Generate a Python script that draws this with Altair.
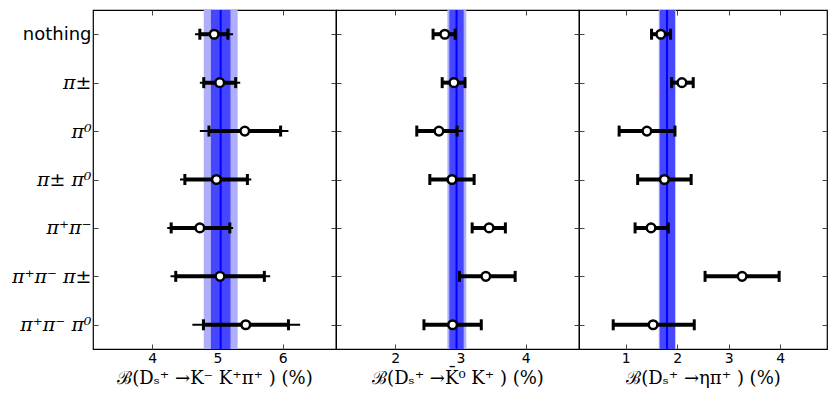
import altair as alt
import pandas as pd

cats = ["nothing", "π±", "π⁰", "π± π⁰", "π⁺π⁻", "π⁺π⁻ π±", "π⁺π⁻ π⁰"]

# Panel 1: B(Ds -> K- K+ pi+)
p1_val = [4.95, 5.035, 5.42, 4.985, 4.73, 5.04, 5.435]
p1_lo = [4.73, 4.79, 4.87, 4.50, 4.29, 4.36, 4.785]
p1_hi = [5.16, 5.28, 5.97, 5.46, 5.19, 5.72, 6.09]
p1_tlo = [4.655, 4.73, 4.73, 4.425, 4.23, 4.28, 4.615]
p1_thi = [5.24, 5.35, 6.09, 5.52, 5.24, 5.81, 6.27]
p1_band = [5.05, 4.90, 5.20, 4.79, 5.31]  # center, inner lo, inner hi, outer lo, outer hi
p1_dom = [3.09, 6.82]
p1_ticks = [4, 5, 6]

# Panel 2: B(Ds -> K0bar K+)
p2_val = [2.76, 2.90, 2.67, 2.87, 3.44, 3.39, 2.88]
p2_lo = [2.58, 2.72, 2.33, 2.53, 3.18, 2.985, 2.44]
p2_hi = [2.92, 3.07, 2.95, 3.21, 3.69, 3.84, 3.32]
p2_tlo = [2.58, 2.72, 2.33, 2.53, 3.18, 2.985, 2.44]
p2_thi = [2.92, 3.07, 3.04, 3.21, 3.69, 3.84, 3.32]
p2_band = [2.94, 2.83, 3.05, 2.80, 3.09]
p2_dom = [1.09, 4.82]
p2_ticks = [2, 3, 4]

# Panel 3: B(Ds -> eta pi+)
p3_val = [1.68, 2.09, 1.41, 1.75, 1.49, 3.26, 1.53]
p3_lo = [1.50, 1.89, 0.87, 1.23, 1.18, 2.54, 0.755]
p3_hi = [1.87, 2.31, 1.955, 2.27, 1.825, 3.98, 2.33]
p3_tlo = [1.50, 1.89, 0.87, 1.23, 1.18, 2.54, 0.755]
p3_thi = [1.87, 2.31, 1.955, 2.27, 1.825, 3.98, 2.33]
p3_band = [1.80, 1.66, 1.955, 1.64, 1.97]
p3_dom = [0.09, 4.91]
p3_ticks = [1, 2, 3, 4]

titles = ["ℬ(Dₛ⁺ →K⁻  K⁺π⁺ ) (%)", "ℬ(Dₛ⁺ →K̄⁰ K⁺ ) (%)", "ℬ(Dₛ⁺ →ηπ⁺ ) (%)"]

LIGHT = "#afaff9"
DARK = "#4646ff"
LINE = "#0000ff"
H = 339


def panel(val, lo, hi, tlo, thi, bandv, dom, ticks, title, first, width):
    df = pd.DataFrame({"cat": cats, "val": val, "lo": lo, "hi": hi, "tlo": tlo, "thi": thi})
    bd = pd.DataFrame({"c": [bandv[0]], "dlo": [bandv[1]], "dhi": [bandv[2]],
                       "llo": [bandv[3]], "lhi": [bandv[4]]})
    xs = alt.Scale(domain=dom, nice=False, zero=False)
    ys = alt.Scale(type="point", domain=cats, padding=0.5)
    xax = alt.Axis(values=ticks, orient="bottom", offset=-5, tickSize=5, domain=False,
                   grid=False, labelFontSize=14, labelFont="DejaVu Sans", labelColor="black",
                   tickColor="#444", labelPadding=2, title=title, titleFont="DejaVu Serif",
                   titleFontSize=18, titleFontWeight="normal", titleColor="black",
                   titlePadding=4)
    if first:
        yax = alt.Axis(orient="left", offset=-5, tickSize=5, domain=False, grid=False,
                       labels=True, title=None, minExtent=0, labelPadding=2,
                       labelFont={"condition": {"test": "datum.value == 'nothing'",
                                                "value": "DejaVu Sans"},
                                  "value": "DejaVu Serif"},
                       labelFontStyle={"condition": {"test": "datum.value == 'nothing'",
                                                     "value": "normal"},
                                       "value": "italic"},
                       labelFontSize={"condition": {"test": "datum.value == 'nothing'",
                                                    "value": 18},
                                      "value": 19},
                       labelColor="black", tickColor="#444")
    else:
        yax = alt.Axis(orient="left", offset=-5, tickSize=5, domain=False, grid=False,
                       labels=False, title=None, minExtent=0, tickColor="#444")
    X = lambda f: alt.X(f + ":Q", scale=xs, axis=xax)
    Y = alt.Y("cat:N", scale=ys, axis=yax, sort=cats)

    light = alt.Chart(bd).mark_rect(color=LIGHT).encode(x=X("llo"), x2="lhi:Q")
    dark = alt.Chart(bd).mark_rect(color=DARK).encode(x=X("dlo"), x2="dhi:Q")
    cline = alt.Chart(bd).mark_rule(color=LINE, strokeWidth=2).encode(x=X("c"))
    base = alt.Chart(df)
    thin = base.mark_rule(color="black", strokeWidth=2).encode(x=X("tlo"), x2="thi:Q", y=Y)
    thick = base.mark_rule(color="black", strokeWidth=4).encode(x=X("lo"), x2="hi:Q", y=Y)
    cap1 = base.mark_tick(color="black", thickness=3, size=11, opacity=1).encode(x=X("lo"), y=Y)
    cap2 = base.mark_tick(color="black", thickness=3, size=11, opacity=1).encode(x=X("hi"), y=Y)
    pts = base.mark_point(shape="circle", filled=True, fill="white", stroke="black",
                          strokeWidth=2.5, size=75, opacity=1).encode(x=X("val"), y=Y)
    main = alt.layer(light, dark, cline, thin, thick, cap1, cap2, pts)

    extra = base.mark_point(opacity=0).encode(
        x=alt.X("val:Q", scale=xs,
                axis=alt.Axis(orient="top", values=ticks, labels=False, title=None,
                              offset=-5, tickSize=5, domain=False, grid=False,
                              tickColor="#444")),
        y=alt.Y("cat:N", scale=ys, sort=cats,
                axis=alt.Axis(orient="right", labels=False, title=None, offset=-5,
                              tickSize=5, domain=False, grid=False, minExtent=0,
                              tickColor="#444")))
    return alt.layer(main, extra).resolve_axis(x="independent", y="independent").properties(
        width=width, height=H)


c1 = panel(p1_val, p1_lo, p1_hi, p1_tlo, p1_thi, p1_band, p1_dom, p1_ticks, titles[0], True, 243)
c2 = panel(p2_val, p2_lo, p2_hi, p2_tlo, p2_thi, p2_band, p2_dom, p2_ticks, titles[1], False, 243)
c3 = panel(p3_val, p3_lo, p3_hi, p3_tlo, p3_thi, p3_band, p3_dom, p3_ticks, titles[2], False, 248)

chart = alt.hconcat(c1, c2, c3, spacing=0, bounds="flush").properties(
    padding={"left": 2, "top": 0, "right": 0, "bottom": 0}
).configure_view(stroke="black", strokeWidth=1.2)

chart.save("out.html", embed_options={"renderer": "svg", "actions": False})
